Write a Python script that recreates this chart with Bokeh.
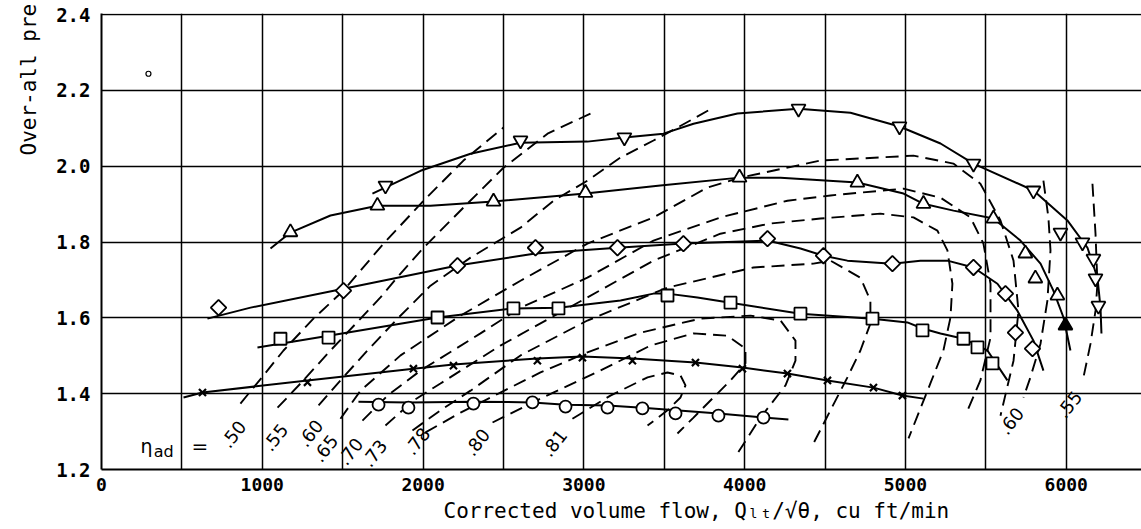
from bokeh.plotting import figure
from bokeh.models import FixedTicker, Range1d, Title, NumeralTickFormatter
from bokeh.core.properties import value
from bokeh.embed import file_html
from bokeh.resources import INLINE

# ---------------- axes ----------------
x_ticks = [0, 1000, 2000, 3000, 4000, 5000, 6000]
x_grid = [500, 1000, 1500, 2000, 2500, 3000, 3500, 4000, 4500, 5000, 5500, 6000]
y_ticks = [1.2, 1.4, 1.6, 1.8, 2.0, 2.2, 2.4]
x_title = "Corrected volume flow, Q\u2097\u209c/\u221a\u03b8, cu ft/min"
y_title = "Over-all pre"

# ---------------- speed lines (faired curves + test points) ----------------
inv_curve_x = [1685, 1984, 2295, 2606, 3022, 3252, 3495, 3682, 3955, 4334, 4658, 4963, 5218, 5423, 5796, 6007, 6132, 6194, 6213, 6219]
inv_curve_y = [1.928, 1.988, 2.033, 2.062, 2.065, 2.076, 2.086, 2.112, 2.139, 2.152, 2.141, 2.105, 2.060, 2.007, 1.936, 1.857, 1.785, 1.706, 1.627, 1.559]
inv_x = [1766, 2606, 3252, 4335, 4963, 5423, 5796, 5964, 6101, 6169, 6182, 6200]
inv_y = [1.949, 2.068, 2.076, 2.152, 2.105, 2.007, 1.936, 1.825, 1.799, 1.756, 1.704, 1.632]

tri_curve_x = [1051, 1175, 1424, 1716, 2046, 2438, 3010, 3476, 3968, 4223, 4701, 4988, 5112, 5299, 5547, 5715, 5840, 5920, 5983, 6026]
tri_curve_y = [1.783, 1.825, 1.870, 1.896, 1.896, 1.907, 1.928, 1.949, 1.970, 1.970, 1.957, 1.928, 1.901, 1.883, 1.862, 1.804, 1.743, 1.672, 1.601, 1.514]
tri_x = [1175, 1716, 2438, 3010, 3968, 4701, 5112, 5547, 5746, 5808, 5945]
tri_y = [1.826, 1.896, 1.907, 1.930, 1.970, 1.957, 1.901, 1.862, 1.770, 1.704, 1.659]
tri_filled_x = [5995]
tri_filled_y = [1.580]

dia_curve_x = [659, 927, 1505, 2214, 2699, 3209, 3619, 4142, 4347, 4490, 4639, 4919, 5093, 5261, 5423, 5572, 5696, 5796, 5858]
dia_curve_y = [1.598, 1.627, 1.677, 1.738, 1.770, 1.785, 1.796, 1.804, 1.783, 1.764, 1.751, 1.743, 1.751, 1.751, 1.733, 1.690, 1.619, 1.540, 1.461]
dia_x = [728, 1505, 2214, 2699, 3209, 3619, 4142, 4490, 4919, 5423, 5622, 5684, 5790]
dia_y = [1.627, 1.672, 1.738, 1.785, 1.785, 1.796, 1.809, 1.764, 1.743, 1.733, 1.664, 1.561, 1.519]

sq_curve_x = [970, 1412, 2090, 2562, 2842, 3228, 3433, 3520, 3706, 3912, 4347, 4795, 5012, 5106, 5218, 5361, 5510, 5634]
sq_curve_y = [1.522, 1.553, 1.601, 1.625, 1.627, 1.646, 1.664, 1.664, 1.654, 1.640, 1.611, 1.598, 1.588, 1.572, 1.559, 1.545, 1.514, 1.435]
sq_x = [1113, 1412, 2090, 2562, 2842, 3520, 3912, 4347, 4795, 5106, 5361, 5448, 5541]
sq_y = [1.545, 1.548, 1.601, 1.625, 1.625, 1.659, 1.640, 1.611, 1.598, 1.567, 1.545, 1.522, 1.480]

x_curve_x = [510, 628, 1281, 1940, 2189, 2711, 2991, 3302, 3694, 3986, 4266, 4515, 4801, 4981, 5112]
x_curve_y = [1.390, 1.403, 1.435, 1.466, 1.477, 1.493, 1.498, 1.493, 1.482, 1.469, 1.453, 1.435, 1.416, 1.395, 1.387]
x_x = [628, 1281, 1940, 2189, 2711, 2991, 3302, 3694, 3986, 4266, 4515, 4801, 4981]
x_y = [1.403, 1.430, 1.466, 1.474, 1.487, 1.495, 1.487, 1.482, 1.466, 1.453, 1.435, 1.416, 1.395]

o_curve_x = [1598, 1909, 2313, 2680, 2886, 3147, 3364, 3570, 3837, 4117, 4272]
o_curve_y = [1.379, 1.377, 1.379, 1.377, 1.371, 1.369, 1.363, 1.356, 1.348, 1.337, 1.332]
o_x = [1723, 1909, 2313, 2680, 2886, 3147, 3364, 3570, 3837, 4117]
o_y = [1.371, 1.363, 1.374, 1.377, 1.366, 1.363, 1.361, 1.348, 1.342, 1.337]

stray_x = [292]
stray_y = [2.244]

# ---------------- efficiency contours (dashed) ----------------
eff50_x = [864, 1007, 1132, 1318, 1505, 1754, 2003, 2251, 2500]
eff50_y = [1.374, 1.448, 1.514, 1.598, 1.672, 1.796, 1.909, 2.015, 2.102]
eff55_x = [1095, 1238, 1424, 1611, 1735, 1860, 2003, 2251, 2500, 2774, 3041]
eff55_y = [1.363, 1.427, 1.514, 1.598, 1.654, 1.717, 1.785, 1.891, 1.996, 2.086, 2.139]
eff60_x = [1350, 1486, 1654, 1841, 2046, 2295, 2606, 2811, 3022, 3228, 3433, 3582, 3806]
eff60_y = [1.369, 1.435, 1.514, 1.598, 1.685, 1.759, 1.838, 1.909, 1.962, 2.023, 2.068, 2.102, 2.155]
eff65_x = [1486, 1611, 1860, 2233, 2606, 3022, 3433, 3769, 3974, 4471, 5050, 5298, 5466, 5591, 5672, 5703, 5672, 5591]
eff65_y = [1.334, 1.408, 1.501, 1.606, 1.698, 1.796, 1.865, 1.944, 1.970, 2.015, 2.028, 2.007, 1.954, 1.857, 1.751, 1.619, 1.487, 1.342]
eff70_x = [1623, 1779, 1984, 2357, 2606, 3022, 3433, 3849, 4266, 4534, 4988, 5218, 5404, 5485, 5529, 5529, 5466, 5386]
eff70_y = [1.329, 1.395, 1.461, 1.559, 1.627, 1.706, 1.804, 1.865, 1.909, 1.923, 1.941, 1.917, 1.865, 1.796, 1.690, 1.548, 1.435, 1.356]
eff73_x = [1766, 1940, 2108, 2481, 3022, 3433, 3849, 4160, 4471, 4844, 5050, 5199, 5261, 5292, 5280, 5236, 5155, 5019]
eff73_y = [1.316, 1.382, 1.427, 1.527, 1.654, 1.751, 1.822, 1.849, 1.862, 1.875, 1.865, 1.830, 1.778, 1.690, 1.601, 1.514, 1.427, 1.282]
eff76_x = [1934, 2108, 2295, 2606, 3022, 3520, 4055, 4428, 4534, 4720, 4782, 4782, 4720, 4639, 4428]
eff76_y = [1.303, 1.356, 1.408, 1.501, 1.593, 1.680, 1.733, 1.743, 1.751, 1.706, 1.646, 1.585, 1.514, 1.443, 1.269]
eff78_x = [2015, 2233, 2481, 2730, 3022, 3352, 3725, 4036, 4223, 4316, 4316, 4254, 4098, 3955]
eff78_y = [1.298, 1.350, 1.403, 1.456, 1.509, 1.561, 1.598, 1.606, 1.593, 1.540, 1.487, 1.422, 1.337, 1.242]
eff80_x = [2432, 2730, 3103, 3414, 3682, 3893, 4005, 4005, 3912, 3806, 3682, 3582]
eff80_y = [1.324, 1.387, 1.461, 1.527, 1.559, 1.553, 1.519, 1.480, 1.435, 1.390, 1.337, 1.295]
eff81_x = [2929, 3165, 3396, 3520, 3601, 3632, 3601, 3520, 3396]
eff81_y = [1.334, 1.395, 1.443, 1.456, 1.448, 1.422, 1.390, 1.356, 1.316]
eff60r_x = [5858, 5889, 5902, 5883, 5840, 5777, 5734]
eff60r_y = [1.962, 1.865, 1.778, 1.646, 1.532, 1.443, 1.390]
eff55r_x = [6163, 6182, 6194, 6182, 6151, 6107]
eff55r_y = [1.954, 1.822, 1.690, 1.619, 1.532, 1.443]

eff_label_text = [".50", ".55", ".60", ".65", ".70", ".73", ".78", ".80", ".81", ".60", ".55"]
eff_label_x = [765, 1026, 1244, 1337, 1493, 1642, 1909, 2282, 2761, 5603, 5964]
eff_label_y = [1.263, 1.255, 1.266, 1.226, 1.218, 1.213, 1.245, 1.242, 1.240, 1.298, 1.342]

# ---------------- figure ----------------
p = figure(width=1141, height=529, output_backend="svg", toolbar_location=None,
           x_range=Range1d(0, 6468), y_range=Range1d(1.2, 2.403),
           min_border_left=101, min_border_right=0, min_border_top=13, min_border_bottom=60)
p.outline_line_color = None
p.background_fill_color = "white"
p.border_fill_color = "white"

p.xaxis.ticker = FixedTicker(ticks=x_ticks)
p.yaxis.ticker = FixedTicker(ticks=y_ticks)
p.xgrid.ticker = FixedTicker(ticks=x_grid)
p.ygrid.ticker = FixedTicker(ticks=y_ticks)
p.xaxis.formatter = NumeralTickFormatter(format="0")
p.yaxis.formatter = NumeralTickFormatter(format="0.0")
for g in (p.xgrid, p.ygrid):
    g.grid_line_color = "black"
    g.grid_line_width = 1.5
    g.grid_line_alpha = 1.0
for ax in (p.xaxis, p.yaxis):
    ax.axis_line_color = "black"
    ax.axis_line_width = 2
    ax.major_tick_line_color = None
    ax.minor_tick_line_color = None
    ax.major_tick_out = 0
    ax.major_tick_in = 0
    ax.minor_tick_out = 0
    ax.minor_tick_in = 0
    ax.major_label_text_font = "DejaVu Sans Mono"
    ax.major_label_text_font_style = "bold"
    ax.major_label_text_color = "black"
p.xaxis.major_label_text_font_size = "18px"
p.yaxis.major_label_text_font_size = "19px"
p.xaxis.major_label_standoff = 8
p.yaxis.major_label_standoff = 11

p.add_layout(Title(text=x_title, align="left", offset=342, standoff=6,
                   text_font="DejaVu Sans Mono", text_font_style="normal",
                   text_font_size="21px", text_color="black"), "below")
p.add_layout(Title(text=y_title, align="left", offset=314, standoff=26,
                   text_font="DejaVu Sans Mono", text_font_style="normal",
                   text_font_size="21px", text_color="black"), "left")

dash = "13 7"
for xs, ys in [(eff50_x, eff50_y), (eff55_x, eff55_y), (eff60_x, eff60_y), (eff65_x, eff65_y),
               (eff70_x, eff70_y), (eff73_x, eff73_y), (eff76_x, eff76_y), (eff78_x, eff78_y),
               (eff80_x, eff80_y), (eff81_x, eff81_y), (eff60r_x, eff60r_y), (eff55r_x, eff55r_y)]:
    p.line(xs, ys, line_color="black", line_width=1.9, line_dash=dash)

for xs, ys in [(inv_curve_x, inv_curve_y), (tri_curve_x, tri_curve_y), (dia_curve_x, dia_curve_y),
               (sq_curve_x, sq_curve_y), (x_curve_x, x_curve_y), (o_curve_x, o_curve_y)]:
    p.line(xs, ys, line_color="black", line_width=2)

mk = dict(line_color="black", line_width=1.8, fill_color="white")
p.scatter(inv_x, inv_y, marker="inverted_triangle", size=14, **mk)
p.scatter(tri_x, tri_y, marker="triangle", size=14, **mk)
p.scatter(tri_filled_x, tri_filled_y, marker="triangle", size=14, line_color="black", line_width=1.8, fill_color="black")
p.scatter(dia_x, dia_y, marker="square", size=11, angle=45, angle_units="deg", **mk)
p.scatter(sq_x, sq_y, marker="square", size=12, **mk)
p.scatter(x_x, x_y, marker="x", size=10, line_color="black", line_width=2.2)
p.scatter(o_x, o_y, marker="circle", size=12, **mk)
p.scatter(stray_x, stray_y, marker="circle", size=5, line_color="black", line_width=1.2, fill_color="white")

# efficiency labels
p.text(eff_label_x, eff_label_y, text=eff_label_text, angle=52, angle_units="deg",
       text_font=value("DejaVu Sans"), text_font_size="18px", text_color="black",
       text_align="left", text_baseline="alphabetic")
p.text([243], [1.263], text=["\u03b7"], text_font=value("DejaVu Sans"), text_font_size="19px",
       text_align="left", text_baseline="alphabetic")
p.text([325], [1.247], text=["ad"], text_font=value("DejaVu Sans"), text_font_size="16px",
       text_align="left", text_baseline="alphabetic")
p.text([560], [1.261], text=["="], text_font=value("DejaVu Sans"), text_font_size="20px",
       text_align="left", text_baseline="alphabetic")

open("out.html", "w").write(file_html(p, INLINE))
